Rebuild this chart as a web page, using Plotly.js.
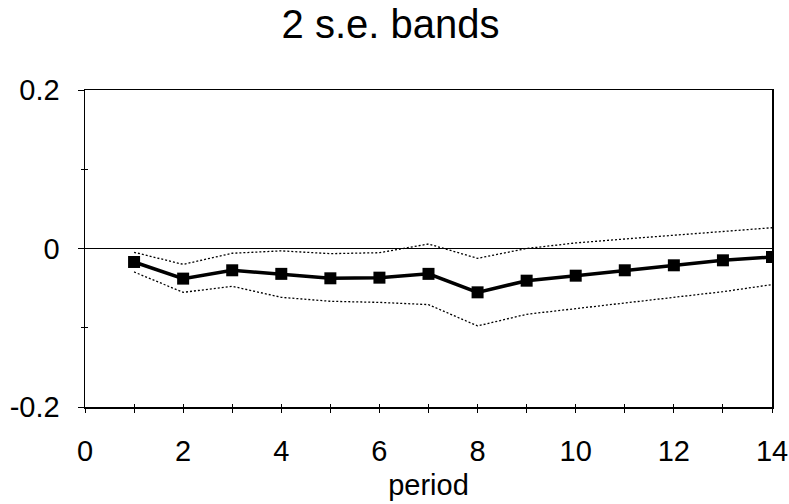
<!DOCTYPE html>
<html>
<head>
<meta charset="utf-8">
<script src="https://cdn.plot.ly/plotly-3.0.1.min.js"></script>
<style>html,body{margin:0;padding:0;background:#fff;}#chart{width:789px;height:504px;}</style>
</head>
<body>
<div id="chart"></div>
<script>
const periods = [1,2,3,4,5,6,7,8,9,10,11,12,13,14];
const response = [-0.017,-0.038,-0.0275,-0.032,-0.0376,-0.0368,-0.032,-0.0553,-0.0406,-0.0343,-0.0275,-0.0212,-0.0149,-0.0107];
const upperBand = [-0.0048,-0.020,-0.006,-0.003,-0.0065,-0.0053,0.0057,-0.0124,0.000,0.007,0.012,0.0166,0.022,0.0262];
const lowerBand = [-0.0296,-0.0553,-0.0477,-0.0616,-0.0666,-0.068,-0.0708,-0.0977,-0.083,-0.076,-0.069,-0.062,-0.0545,-0.0456];
const xTickVals = [0,1,2,3,4,5,6,7,8,9,10,11,12,13,14];
const xTickText = ['0','','2','','4','','6','','8','','10','','12','','14'];
const yTickVals = [-0.2,0,0.2];
const yTickText = ['-0.2','0','0.2'];
const yMinorVals = [-0.1,0.1];

const fontFam = 'Liberation Sans, Arial, sans-serif';
const traces = [
  {x: periods, y: upperBand, type:'scatter', mode:'lines', line:{color:'#000', width:1.3, dash:'2px,2px'}, hoverinfo:'skip'},
  {x: periods, y: lowerBand, type:'scatter', mode:'lines', line:{color:'#000', width:1.3, dash:'2px,2px'}, hoverinfo:'skip'},
  {x: periods, y: response, type:'scatter', mode:'lines+markers', line:{color:'#000', width:3.5},
   marker:{symbol:'square', size:12, color:'#000'}},
  {x: [], y: [], xaxis:'x2', yaxis:'y2', type:'scatter'}
];
const layout = {
  width: 789, height: 504,
  margin: {l:85, r:17, t:90, b:97, pad:0},
  paper_bgcolor:'#fff', plot_bgcolor:'#fff',
  showlegend:false,
  font:{family:fontFam, color:'#000'},
  title:{text:'2 s.e. bands', font:{family:fontFam, size:40, color:'#000'}, x:0.495, xref:'container', xanchor:'center', y:0.953, yref:'container', yanchor:'middle', pad:{t:0,b:0}},
  xaxis:{range:[0,14], tickmode:'array', tickvals:xTickVals, ticktext:xTickText, ticks:'outside', ticklen:4, tickwidth:1, tickcolor:'#000',
    showline:true, linecolor:'#000', linewidth:1.5, mirror:true, showgrid:false, zeroline:false,
    tickfont:{size:29, family:fontFam, color:'#000'}, ticklabelstandoff:14,
    title:{text:'period', font:{size:29, family:fontFam, color:'#000'}, standoff:8}},
  yaxis:{range:[-0.2,0.2], tickmode:'array', tickvals:yTickVals, ticktext:yTickText, ticks:'outside', ticklen:6, tickwidth:1, tickcolor:'#000',
    showline:true, linecolor:'#000', linewidth:1.5, mirror:true, showgrid:false, zeroline:true, zerolinecolor:'#000', zerolinewidth:1.5,
    tickfont:{size:29, family:fontFam, color:'#000'}, ticklabelstandoff:12},
  xaxis2:{range:[0,14], overlaying:'x', tickmode:'array', tickvals:xTickVals, ticks:'inside', ticklen:3, tickcolor:'#000', showticklabels:false, showline:false, showgrid:false, zeroline:false},
  yaxis2:{range:[-0.2,0.2], overlaying:'y', tickmode:'array', tickvals:yMinorVals, ticks:'inside', ticklen:3, tickcolor:'#000', showticklabels:false, showline:false, showgrid:false, zeroline:false},
};
layout.yaxis.minor = {tickmode:'array', tickvals:yMinorVals, ticks:'outside', ticklen:3, tickcolor:'#000'};
Plotly.newPlot('chart', traces, layout, {displayModeBar:false, staticPlot:true});
</script>
</body>
</html>
